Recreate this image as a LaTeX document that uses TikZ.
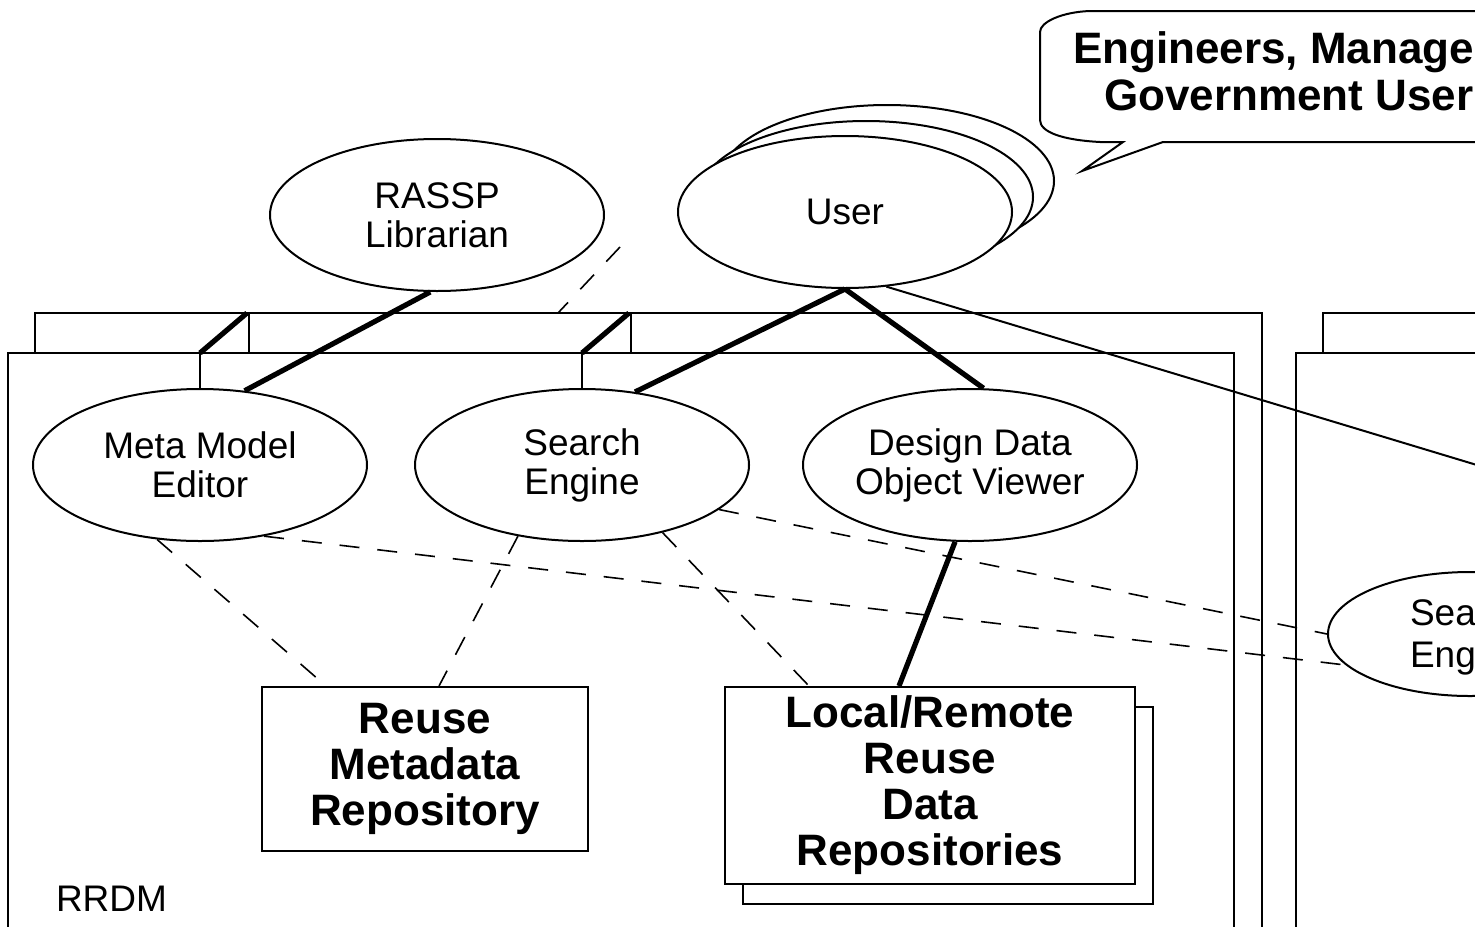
\documentclass[tikz,border=0pt]{standalone}
\usepackage{fontspec}
\setmainfont{Liberation Sans}
\usetikzlibrary{shapes.geometric,calc}

\begin{document}
\begin{tikzpicture}[x=0.5pt,y=-0.5pt,line width=1pt,
	usecase/.style={draw,ellipse,fill=white,minimum width=167pt,minimum height=76pt,inner sep=0pt,align=center,font=\fontsize{18.5}{19.5}\selectfont},
	repo/.style={draw,rectangle,fill=white,inner sep=0pt,align=center,font=\fontsize{22}{23}\selectfont\bfseries},
	lbl/.style={inner sep=0pt,font=\fontsize{18.5}{19.5}\selectfont},
	blbl/.style={inner sep=0pt,font=\fontsize{22}{23.5}\selectfont\bfseries},
	heavy/.style={line width=2.6pt},
	dashline/.style={line width=0.8pt,dash pattern=on 10pt off 9pt}]
		\useasboundingbox (0,0) rectangle (1475,926);
		\clip (0,0) rectangle (1475,926);
		\draw[fill=white] (35,313) rectangle (1262,960);
		\draw[fill=white] (8,353) rectangle (1234,960);
		\draw[fill=white] (1323,313) rectangle (1600,960);
		\draw[fill=white] (1296,353) rectangle (1600,960);
		\coordinate (ftop) at (0,353);
		\draw[fill=white] (1485,142) -- (1163,142) -- (1082,171) -- (1123,142) -- (1100,142) .. controls (1062,140) and (1040,132) .. (1040,120) -- (1040,32) .. controls (1040,22) and (1062,12) .. (1090,11) -- (1485,11);
		\node[blbl,anchor=base west] (crowd) at (1072,63) {Engineers, Manage};
		\node[blbl,anchor=base west] (crowdb) at (1103,110) {Government User};
		\node[usecase] (librarian) at (437,215) {RASSP\\Librarian};
		\node[usecase] (userc) at (887,181) {};
		\node[usecase] (userb) at (866,197) {};
		\node[usecase] (user) at (845,212) {User};
		\node[usecase] (metaeditor) at (200,465) {Meta Model\\Editor};
		\node[usecase] (searchengine) at (582,465) {Search\\Engine};
		\node[usecase] (objviewer) at (970,465) {Design Data\\Object Viewer};
		\node[usecase,minimum width=142pt,minimum height=62pt] (remotesearch) at (1470,634) {};
		\node[lbl,anchor=base west] (sea) at (1409,625) {Sea};
		\node[lbl,anchor=base west] (eng) at (1409,667) {Eng};
		\node[repo,minimum width=163pt,minimum height=82pt] (metarepo) at (425,769) {Reuse\\Metadata\\Repository};
		\node[repo,minimum width=205pt,minimum height=98.5pt] (datarepob) at (948,805.5) {};
		\node[repo,minimum width=205pt,minimum height=98.5pt] (datarepo) at (930,785.5) {Local/Remote\\Reuse\\Data\\Repositories};
		\node[lbl,anchor=base west] (rrdm) at (55,911) {RRDM};
		\draw (metaeditor.north) -- (metaeditor.north |- ftop) coordinate (mtab);
		\draw[heavy] (mtab) -- ++(47,-40) coordinate (mtabb);
		\draw (mtabb) ++(2,0) -- ++(0,40);
		\draw (searchengine.north) -- (searchengine.north |- ftop) coordinate (stab);
		\draw[heavy] (stab) -- ++(47,-40) coordinate (stabb);
		\draw (stabb) ++(2,0) -- ++(0,40);
		\draw[heavy] (librarian.265) -- (metaeditor.59);
		\draw[heavy] (user.south) -- (searchengine.54);
		\draw[heavy] (user.south) -- (objviewer.80);
		\draw[heavy] (objviewer.259) -- ($(datarepo.north west)+(175,0)$);
		\coordinate (userfar) at (1500,472);
		\draw (user.-61) -- (userfar);
		\coordinate (libdash) at (620,247);
		\coordinate (libdashb) at (558,313);
		\draw[dashline] (libdash) -- (libdashb);
		\draw[dashline] (metaeditor.240) -- ($(metarepo.north west)+(65,0)$);
		\draw[dashline] (searchengine.228) -- ($(metarepo.north west)+(178,0)$);
		\draw[dashline] (searchengine.-40) -- ($(datarepo.north west)+(85,0)$);
		\draw[dashline] (metaeditor.-48) -- (remotesearch.194);
		\draw[dashline] (searchengine.-18) -- (remotesearch.west);
	\end{tikzpicture}
\end{document}
